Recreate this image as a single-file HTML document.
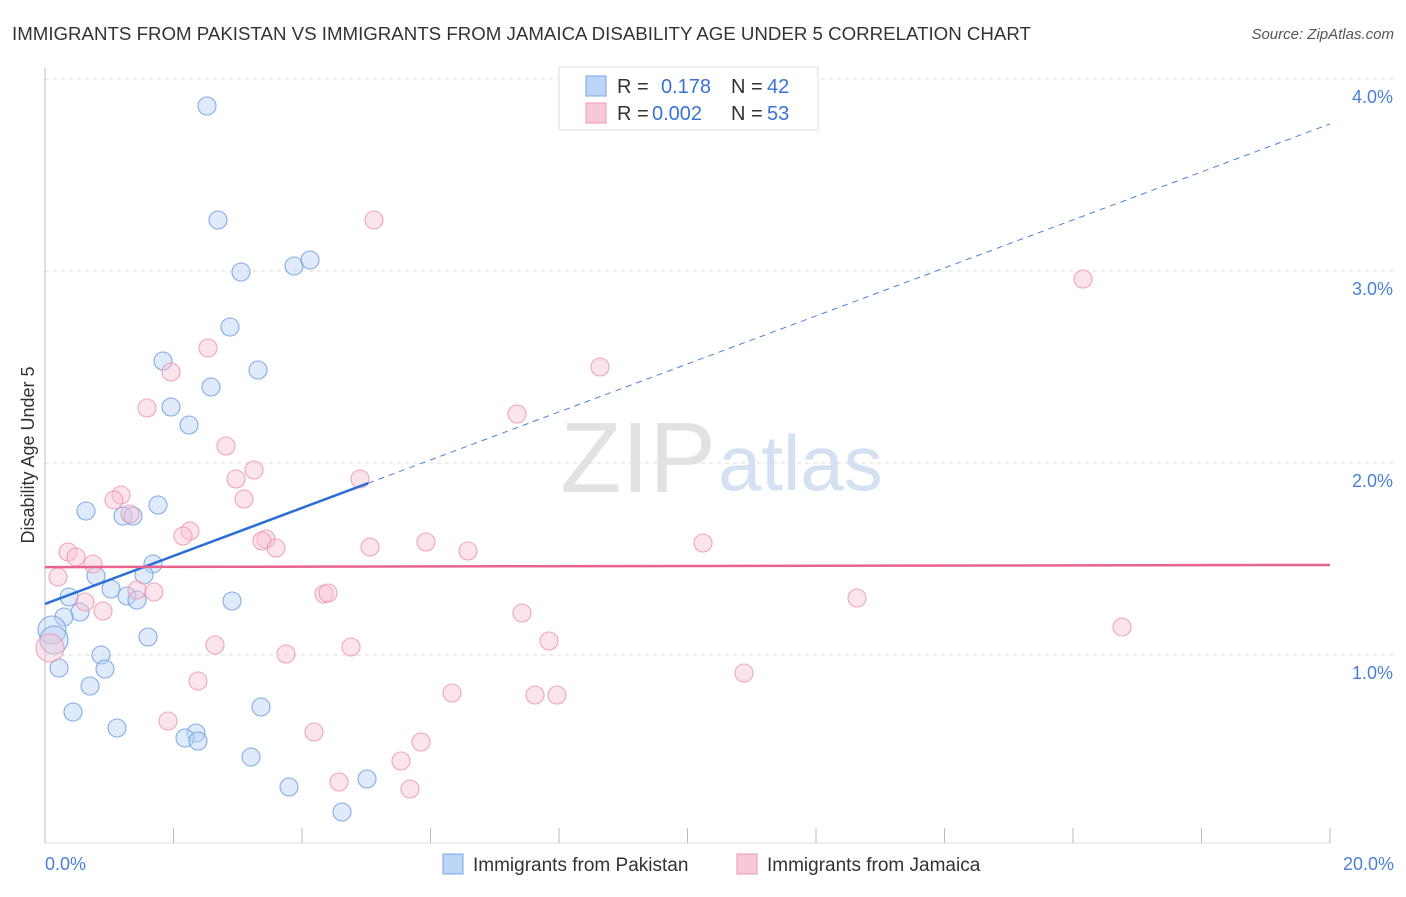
<!DOCTYPE html>
<html><head><meta charset="utf-8"><style>
body{margin:0;background:#fff;font-family:"Liberation Sans",sans-serif;}
svg text{font-family:"Liberation Sans",sans-serif;}
</style></head><body>
<svg width="1406" height="892" viewBox="0 0 1406 892">
<text x="12" y="40" font-size="18.7" fill="#333">IMMIGRANTS FROM PAKISTAN VS IMMIGRANTS FROM JAMAICA DISABILITY AGE UNDER 5 CORRELATION CHART</text>
<text x="1394" y="39" font-size="15" fill="#555" font-style="italic" text-anchor="end">Source: ZipAtlas.com</text>
<g id="grid"></g>
<text x="716" y="492" font-size="100" fill="#e2e2e2" text-anchor="end" font-family="Liberation Serif">ZIP</text>
<text x="718" y="490" font-size="78" fill="#d3e1f3">atlas</text>
<line x1="45" y1="68" x2="45" y2="843" stroke="#bbb"/>
<line x1="45" y1="843" x2="1330" y2="843" stroke="#ddd"/>
<g id="ticks"></g>
<g id="pts"></g>
<g id="lines"></g>
<text transform="translate(34,455) rotate(-90)" font-size="18" fill="#333" text-anchor="middle">Disability Age Under 5</text>
<text x="45" y="870" font-size="18" fill="#4a7fd6">0.0%</text>
<text x="1394" y="870" font-size="18" fill="#4a7fd6" text-anchor="end">20.0%</text>
<g>
<rect x="559" y="67" width="259" height="63" fill="#fff" stroke="#ddd"/>
<rect x="586" y="76" width="20" height="20" fill="#bcd4f5" stroke="#7aa6e8"/>
<rect x="586" y="103" width="20" height="20" fill="#f9c8d8" stroke="#ee9ab6"/>
<text x="617" y="93" font-size="20" fill="#333">R = </text><text x="661" y="93" font-size="20" fill="#3a73d4">0.178</text>
<text x="731" y="93" font-size="20" fill="#333">N = </text><text x="767" y="93" font-size="20" fill="#3a73d4">42</text>
<text x="617" y="120" font-size="20" fill="#333">R = </text><text x="652" y="120" font-size="20" fill="#3a73d4">0.002</text>
<text x="731" y="120" font-size="20" fill="#333">N = </text><text x="767" y="120" font-size="20" fill="#3a73d4">53</text>
</g>
<g>
<rect x="443" y="854" width="20" height="20" fill="#bcd4f5" stroke="#7aa6e8"/>
<text x="473" y="871" font-size="19" fill="#333">Immigrants from Pakistan</text>
<rect x="737" y="854" width="20" height="20" fill="#f9c8d8" stroke="#ee9ab6"/>
<text x="767" y="871" font-size="19" fill="#333">Immigrants from Jamaica</text>
</g>
</svg>
<script>
const blueX=[207,218,241,294,310,230,163,258,211,171,189,86,158,123,133,153,96,144,69,111,127,137,232,80,64,52,54,148,101,105,59,90,73,117,261,196,185,198,251,367,289,342].map(p=>(p-45)/1285*20);
const blueY=[106,220,272,266,260,327,361,370,387,407,425,511,505,516,516,564,576,575,597,589,596,600,601,612,617,630,640,637,655,669,668,686,712,728,707,733,738,741,757,779,787,812].map(p=>(847-p)/192);
const pinkX=[374,1083,208,600,171,147,517,226,254,236,360,121,114,244,130,190,183,68,76,93,266,262,276,370,426,468,703,58,137,154,85,324,328,103,522,857,1122,215,549,351,286,50,198,744,452,535,557,168,314,421,401,339,410].map(p=>(p-45)/1285*20);
const pinkY=[220,279,348,367,372,408,414,446,470,479,479,495,500,499,514,531,536,552,557,564,539,541,548,547,542,551,543,577,590,592,602,594,593,611,613,598,627,645,641,647,654,648,681,673,693,695,695,721,732,742,761,782,789].map(p=>(847-p)/192);
const yTicks=[1,2,3,4];
const blueFit=[1.266,0.125,5.03];
const pinkFit=[1.458,0.00055];
const NS='http://www.w3.org/2000/svg';
const sx=v=>45+v/20*1285, sy=v=>847-v*192;
function mk(tag,at,parent){const e=document.createElementNS(NS,tag);for(const k in at)e.setAttribute(k,at[k]);document.getElementById(parent).appendChild(e);return e;}
yTicks.forEach(t=>{
 const g=mk('line',{x1:45,x2:1394,y1:sy(t),y2:sy(t),stroke:'#ddd','stroke-dasharray':'4,4'},'grid');
 
 
 const tx=mk('text',{x:1393,y:sy(t)+24,'font-size':18,fill:'#4a7fd6','text-anchor':'end'},'grid');
 tx.textContent=t.toFixed(1)+'%';
 
 
});
for(let i=0;i<=10;i++){
 const l=mk('line',{x1:sx(i*2),x2:sx(i*2),y1:828,y2:843,stroke:'#bbb'},'ticks');
 
 
}
function pts(X,Y,fill,stroke,name){
 X.forEach((x,i)=>{
  const big=x<0.2?14:9;
  const c=mk('circle',{cx:sx(x),cy:sy(Y[i]),r:big,fill:fill,'fill-opacity':0.45,stroke:stroke,'stroke-width':1.1,'stroke-opacity':0.85},'pts');
  
  
 });
}
pts(blueX,blueY,'#b8d2f3','#6f9fe3','pakistan-point');
pts(pinkX,pinkY,'#f8c4d4','#ec97b3','jamaica-point');
let l1=mk('line',{x1:sx(0),y1:sy(blueFit[0]),x2:sx(blueFit[2]),y2:sy(blueFit[0]+blueFit[1]*blueFit[2]),stroke:'#2a6fd6','stroke-width':2.5},'lines');


let l2=mk('line',{x1:sx(blueFit[2]),y1:sy(blueFit[0]+blueFit[1]*blueFit[2]),x2:sx(20),y2:sy(blueFit[0]+blueFit[1]*20),stroke:'#4a80d8','stroke-width':1,'stroke-dasharray':'6,5'},'lines');


let l3=mk('line',{x1:sx(0),y1:sy(pinkFit[0]),x2:sx(20),y2:sy(pinkFit[0]+pinkFit[1]*20),stroke:'#e8648f','stroke-width':2.5},'lines');


</script>
</body></html>
